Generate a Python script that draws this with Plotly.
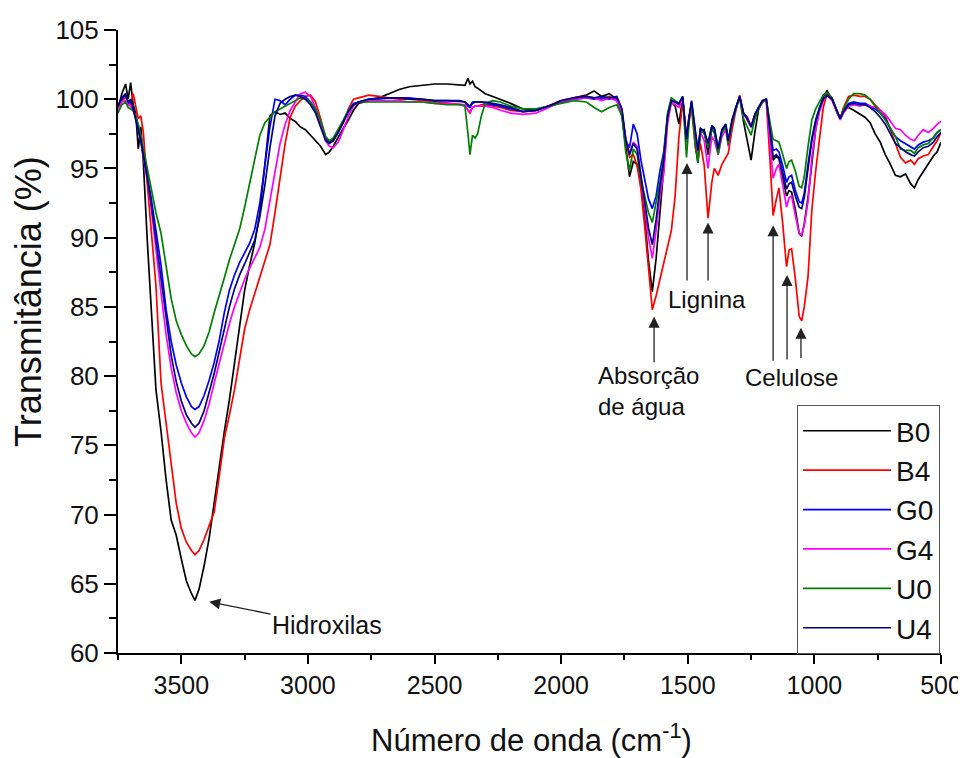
import plotly.graph_objects as go

wavenumber = [3750, 3735, 3720, 3710, 3700, 3690, 3680, 3670, 3660, 3650,
              3635, 3620, 3600, 3580, 3560, 3540, 3520, 3500, 3480, 3460,
              3446, 3430, 3410, 3390, 3370, 3350, 3330, 3310, 3290, 3270,
              3250, 3230, 3210, 3190, 3170, 3150, 3130, 3110, 3090, 3070,
              3050, 3030, 3010, 2990, 2970, 2950, 2930, 2915, 2900, 2880,
              2860, 2840, 2820, 2800, 2760, 2720, 2680, 2640, 2600, 2550,
              2500, 2450, 2400, 2380, 2368, 2360, 2350, 2340, 2330, 2315,
              2300, 2270, 2240, 2200, 2150, 2100, 2050, 2000, 1950, 1900,
              1870, 1840, 1810, 1780, 1760, 1745, 1730, 1715, 1700, 1685,
              1670, 1655, 1640, 1625, 1610, 1595, 1580, 1565, 1550, 1535,
              1520, 1505, 1495, 1485, 1470, 1460, 1450, 1435, 1420, 1405,
              1395, 1380, 1365, 1350, 1340, 1325, 1310, 1295, 1280, 1265,
              1250, 1235, 1220, 1205, 1190, 1175, 1163, 1150, 1140, 1125,
              1110, 1100, 1090, 1075, 1060, 1050, 1040, 1025, 1010, 995,
              980, 965, 950, 930, 910, 898, 885, 865, 845, 820,
              800, 780, 760, 740, 720, 700, 680, 660, 640, 620,
              605, 590, 570, 550, 530, 515, 500]

B0 = [99.3, 100.4, 101.1, 100.0, 101.2, 99.6, 99.0, 96.4, 98.0, 95.5,
      90.0, 85.5, 79.0, 76.0, 72.5, 69.6, 68.5, 66.8, 65.2, 64.3,
      63.8, 64.6, 66.3, 68.3, 71.0, 73.5, 76.0, 78.3, 81.0, 83.5,
      86.2, 88.0, 89.6, 91.8, 95.5, 98.8, 99.1, 98.9, 99.0, 98.6,
      98.4, 98.0, 97.8, 97.4, 97.0, 96.6, 96.0, 96.2, 96.6, 97.3,
      97.9, 98.5, 99.2, 99.7, 99.9, 100.1, 100.4, 100.7, 100.9, 101.0,
      101.1, 101.1, 101.0, 101.0, 101.5, 101.1, 101.3, 100.9, 100.8, 100.6,
      100.4, 100.2, 100.0, 99.7, 99.3, 99.2, 99.5, 99.8, 100.1, 100.3,
      100.6, 100.2, 100.4, 100.0, 98.8, 96.6, 94.4, 95.5, 95.3, 94.0,
      91.5, 88.3, 86.1, 88.5, 91.5, 95.0, 98.6, 99.8, 99.5, 98.2,
      100.1, 96.9, 98.5, 99.7, 97.0, 95.4, 97.6, 97.8, 96.0, 97.9,
      97.6, 96.2, 97.6, 98.1, 96.8, 98.3, 99.4, 100.2, 98.4, 97.0,
      95.6, 97.6, 99.3, 99.8, 100.0, 97.6, 95.6, 95.9, 95.7, 94.3,
      93.0, 93.4, 93.3, 92.0, 90.3, 90.1, 91.0, 92.9, 95.5, 97.8,
      99.3, 100.2, 100.6, 100.0, 99.0, 98.6, 99.3, 99.4, 99.2, 98.9,
      98.7, 98.3, 97.5, 96.9, 96.0, 95.3, 94.5, 94.4, 94.6, 93.9,
      93.6, 94.2, 94.8, 95.4, 95.9, 96.2, 96.9]

B4 = [99.4, 99.9, 100.1, 99.8, 99.6, 100.4, 99.4, 98.6, 98.8, 97.6,
      94.0, 90.8, 86.5, 79.5, 76.5, 73.5, 70.8, 69.0, 68.0, 67.4,
      67.1, 67.4, 68.2, 69.2, 70.2, 72.8, 75.5, 77.2, 79.0, 81.2,
      83.4, 84.8, 86.0, 87.2, 88.3, 89.5, 91.8, 94.2, 96.8, 98.7,
      99.5, 99.9, 100.2, 100.3, 99.8, 98.6, 97.2, 96.9, 97.0, 97.6,
      98.3, 99.3, 100.0, 100.1, 100.3, 100.2, 100.1, 100.0, 100.0, 99.9,
      99.8, 99.7, 99.6, 99.6, 99.2, 99.0, 99.4, 99.5, 99.5, 99.6,
      99.6, 99.5, 99.4, 99.2, 99.1, 99.2, 99.5, 99.9, 100.1, 100.2,
      100.1, 100.0, 100.2, 99.9, 99.0, 97.0, 95.8, 96.0, 95.2, 93.5,
      90.8, 87.6, 84.8, 85.8, 87.0, 88.3, 89.4, 90.5, 93.0, 97.3,
      99.8, 97.3, 98.8, 99.3, 96.5, 95.6, 96.8, 95.2, 91.4, 94.0,
      95.0, 94.5, 95.3, 95.8, 96.1, 97.8, 99.2, 100.3, 99.0, 98.5,
      98.0, 98.7, 99.4, 99.9, 99.9, 95.5, 91.6, 92.8, 93.6, 91.0,
      87.9, 89.1, 89.2, 87.0, 84.3, 84.0, 85.0, 87.2, 92.0, 94.8,
      97.3, 99.4, 100.4, 100.1, 99.1, 98.6, 99.4, 100.2, 100.3, 100.2,
      100.2, 100.0, 99.6, 99.2, 98.8, 97.8, 96.8, 95.8, 95.4, 95.6,
      95.3, 95.7, 95.9, 96.0, 96.6, 97.0, 97.6]

G0 = [99.6, 100.0, 100.3, 99.7, 99.9, 99.4, 98.6, 97.9, 97.0, 96.0,
      94.5, 93.0, 90.5, 88.0, 84.8, 82.5, 80.8, 79.5, 78.5, 77.8,
      77.6, 77.8, 78.6, 79.7, 81.0, 82.6, 84.6, 86.2, 87.3, 88.2,
      88.9, 89.6, 90.6, 92.5, 95.2, 98.0, 100.0, 99.9, 99.6, 100.0,
      100.3, 100.3, 100.2, 99.8, 99.2, 98.2, 97.1, 96.9, 97.1, 97.7,
      98.4, 99.2, 99.7, 99.8, 100.0, 100.0, 100.1, 100.1, 100.1, 100.0,
      99.9, 99.9, 99.8, 99.8, 99.5, 99.4, 99.7, 99.8, 99.8, 99.8,
      99.7, 99.6, 99.5, 99.3, 99.1, 99.2, 99.5, 99.8, 100.0, 100.1,
      100.0, 100.1, 100.0, 100.1, 99.2, 97.0, 96.5, 98.2, 97.5, 95.6,
      94.2, 92.8, 92.1, 93.0, 94.8, 96.2, 98.8, 99.9, 99.8, 99.6,
      100.1, 96.9, 98.6, 99.8, 97.6, 96.2, 97.9, 97.6, 96.8, 98.0,
      97.9, 96.5, 97.8, 98.2, 97.0, 98.5, 99.4, 100.2, 99.0, 98.7,
      98.0, 98.9, 99.4, 99.9, 100.0, 98.0, 96.3, 96.4, 96.2, 95.2,
      94.0, 94.4, 94.5, 93.4, 92.6, 92.5, 93.2, 95.3, 97.2, 98.5,
      99.4, 100.0, 100.3, 100.0, 99.1, 98.6, 99.2, 99.7, 99.8, 99.7,
      99.7, 99.5, 99.3, 99.0, 98.6, 97.9, 97.3, 97.0, 96.8, 96.6,
      96.4, 96.7, 96.9, 97.0, 97.2, 97.6, 97.8]

G4 = [99.2, 99.8, 99.9, 99.6, 99.5, 99.2, 98.8, 97.8, 97.0, 95.8,
      94.3, 92.3, 89.0, 86.0, 83.0, 80.6, 78.8, 77.5, 76.6, 75.9,
      75.6, 75.9, 76.8, 78.0, 79.5, 81.0, 82.5, 83.8, 85.0, 86.0,
      87.0, 87.8, 88.5, 89.3, 90.6, 92.7, 94.9, 96.8, 98.2, 99.2,
      99.8, 100.4, 100.5, 100.2, 99.4, 98.3, 97.0, 96.6, 96.5, 96.9,
      97.8, 98.8, 99.5, 99.8, 99.9, 99.9, 99.9, 99.9, 99.8, 99.8,
      99.7, 99.7, 99.6, 99.6, 99.2, 99.1, 99.4, 99.5, 99.5, 99.5,
      99.5, 99.4, 99.2, 99.0, 98.9, 99.0, 99.4, 99.8, 100.0, 100.1,
      100.1, 99.9, 100.1, 99.9, 99.0, 97.2, 96.0, 96.9, 96.6, 94.5,
      92.3, 90.0, 88.5, 90.5, 93.0, 94.6, 98.2, 99.8, 99.6, 99.4,
      100.0, 97.0, 98.6, 99.7, 97.2, 96.0, 97.6, 97.0, 95.0, 97.3,
      97.0, 96.0, 97.3, 97.8, 96.6, 98.3, 99.3, 100.2, 98.9, 98.6,
      98.0, 98.8, 99.3, 99.8, 100.0, 97.0, 94.3, 95.0, 95.3, 93.8,
      92.2, 92.9, 93.0, 91.6, 90.3, 90.2, 90.9, 92.6, 95.8, 97.8,
      99.1, 99.9, 100.3, 99.9, 99.0, 98.5, 99.0, 99.5, 99.6, 99.5,
      99.6, 99.5, 99.4, 99.2, 98.9, 98.4, 97.9, 97.8, 97.4, 97.1,
      97.0, 97.4, 97.8, 97.6, 97.9, 98.2, 98.4]

U0 = [99.0, 99.6, 99.8, 99.4, 99.3, 99.2, 98.8, 98.2, 97.4, 96.5,
      95.0, 93.8, 91.8, 90.3, 87.8, 85.6, 84.0, 83.0, 82.2, 81.6,
      81.4, 81.6, 82.2, 83.2, 84.6, 85.8, 87.1, 88.4, 89.5, 90.6,
      92.2, 94.0, 95.8, 97.4, 98.3, 98.7, 99.1, 99.3, 99.5, 99.7,
      99.9, 100.1, 100.0, 99.8, 99.3, 98.5, 97.3, 97.0, 97.2, 97.8,
      98.5, 99.2, 99.6, 99.8, 99.8, 99.8, 99.8, 99.8, 99.8, 99.8,
      99.7, 99.6, 99.6, 99.5, 97.5, 96.0, 97.4, 97.2, 97.5, 98.8,
      99.7, 99.9, 99.8, 99.5, 99.3, 99.3, 99.5, 99.7, 99.9, 99.8,
      99.4, 99.1, 99.4, 99.6, 98.8, 96.2, 94.9, 96.4, 96.0, 94.2,
      93.0, 91.8, 91.1, 92.5, 94.0, 95.8, 99.0, 100.1, 99.9, 99.7,
      100.2, 95.8, 98.3, 99.8, 96.6, 95.4, 97.8, 97.5, 96.5, 97.8,
      97.7, 96.0, 97.6, 98.0, 96.7, 98.3, 99.3, 100.1, 98.6, 98.0,
      97.4, 98.6, 99.3, 99.8, 100.0, 98.3, 97.1, 97.0, 96.9, 96.0,
      95.0, 95.5, 95.6, 94.8, 93.7, 93.6, 94.4, 96.6, 98.5, 99.3,
      99.8, 100.3, 100.5, 100.1, 99.1, 98.6, 99.3, 100.0, 100.4, 100.4,
      100.3, 100.0, 99.5, 99.0, 98.5, 97.9, 97.3, 96.4, 96.3, 96.3,
      96.1, 96.5, 96.7, 96.8, 97.3, 97.6, 97.8]

U4 = [99.5, 100.1, 100.4, 99.8, 100.0, 99.3, 98.7, 97.8, 97.0, 96.0,
      94.4, 92.6, 89.8, 87.0, 84.0, 81.5, 79.6, 78.2, 77.2, 76.6,
      76.3, 76.6, 77.5, 78.8, 80.2, 81.8, 83.5, 85.0, 86.3, 87.3,
      88.1, 88.9, 89.8, 91.5, 93.8, 96.5, 98.8, 99.7, 100.0, 100.2,
      100.3, 100.2, 100.0, 99.6, 99.0, 98.0, 97.0, 96.8, 97.0, 97.6,
      98.3, 99.1, 99.6, 99.8, 100.0, 100.1, 100.1, 100.1, 100.0, 100.0,
      99.9, 99.9, 99.9, 99.8, 99.6, 99.5, 99.8, 99.8, 99.8, 99.8,
      99.8, 99.7, 99.6, 99.4, 99.1, 99.2, 99.5, 99.9, 100.1, 100.2,
      100.1, 100.2, 100.1, 100.2, 99.3, 97.1, 96.0, 96.8, 96.4, 94.5,
      92.6, 90.7, 89.5, 91.3, 93.6, 95.6, 98.7, 99.9, 99.8, 99.7,
      100.2, 97.1, 98.7, 99.9, 97.7, 96.3, 97.9, 97.7, 96.8, 98.1,
      97.9, 96.4, 97.8, 98.2, 97.0, 98.5, 99.4, 100.2, 99.0, 98.6,
      98.0, 98.9, 99.4, 99.9, 100.0, 97.8, 95.8, 96.0, 95.8, 94.7,
      93.5, 93.9, 94.0, 93.0, 92.2, 92.1, 92.9, 95.0, 97.0, 98.4,
      99.3, 100.0, 100.3, 100.0, 99.1, 98.6, 99.1, 99.6, 99.7, 99.6,
      99.6, 99.4, 99.1, 98.7, 98.2, 97.5, 96.8, 96.5, 96.2, 96.0,
      95.9, 96.2, 96.5, 96.6, 96.9, 97.3, 97.6]

series_names = ["B0", "B4", "G0", "G4", "U0", "U4"]
series_values = [B0, B4, G0, G4, U0, U4]
series_colors = ["#000000", "#FF0000", "#0000FF", "#FF00FF", "#008000", "#000080"]

x_tick_values = [3500, 3000, 2500, 2000, 1500, 1000, 500]
y_tick_values = [60, 65, 70, 75, 80, 85, 90, 95, 100, 105]

FONT = "Liberation Sans, Arial, sans-serif"
TXT = "#111111"

fig = go.Figure()
for name, vals, col in zip(series_names, series_values, series_colors):
    fig.add_trace(go.Scatter(x=wavenumber, y=vals, mode="lines", name=name,
                             line=dict(color=col, width=1.7)))

# arrows (tip = x,y ; tail = ax,ay)
arrows = [
    (1633, 84.3, 1633, 80.9),   # Absorção de água
    (1503, 95.4, 1503, 86.8),   # Lignina
    (1420, 91.1, 1420, 86.8),
    (1163, 90.9, 1163, 81.0),   # Celulose
    (1108, 87.3, 1108, 81.1),
    (1053, 83.5, 1053, 81.2),
]
for (x, y, ax, ay) in arrows:
    fig.add_annotation(x=x, y=y, ax=ax, ay=ay, xref="x", yref="y", axref="x", ayref="y",
                       text="", showarrow=True, arrowhead=2, arrowsize=1.7,
                       arrowwidth=1.3, arrowcolor="#222222")

# Hidroxilas label carries its own arrow
fig.add_annotation(x=3390, y=63.7, ax=2925, ay=62.0, xref="x", yref="y", axref="x", ayref="y",
                   text="Hidroxilas", showarrow=True, arrowhead=2, arrowsize=1.7,
                   arrowwidth=1.3, arrowcolor="#222222", standoff=0,
                   font=dict(family=FONT, size=25, color=TXT))

labels = [
    ("Absorção<br>de água", 1657, 78.9, "center"),
    ("Lignina", 1424, 85.5, "center"),
    ("Celulose", 1092, 79.9, "center"),
]
for (t, x, y, anc) in labels:
    fig.add_annotation(x=x, y=y, xref="x", yref="y", text=t, showarrow=False,
                       xanchor=anc, yanchor="middle", align="left",
                       font=dict(family=FONT, size=24, color=TXT))

# axis titles as paper annotations
fig.add_annotation(x=0.502, y=-0.137, xref="paper", yref="paper",
                   text="Número de onda (cm<sup>-1</sup>)", showarrow=False,
                   xanchor="center", yanchor="middle",
                   font=dict(family=FONT, size=31, color=TXT))
fig.add_annotation(x=-0.1095, y=0.565, xref="paper", yref="paper",
                   text="Transmitância (%)", showarrow=False, textangle=-90,
                   xanchor="center", yanchor="middle",
                   font=dict(family=FONT, size=36, color=TXT))

# page body has an 8px margin, so the figure is 8px smaller and margins shifted
fig.update_layout(
    width=958, height=750,
    margin=dict(l=110, r=25, t=22, b=105),
    plot_bgcolor="white", paper_bgcolor="white",
    font=dict(family=FONT, color=TXT),
    showlegend=True,
    legend=dict(x=0.825, y=0.398, xanchor="left", yanchor="top",
                bgcolor="white", bordercolor="#555555", borderwidth=1,
                font=dict(family=FONT, size=28, color=TXT),
                itemwidth=88),
)
fig.update_xaxes(
    range=[3750, 500], tickvals=x_tick_values, automargin=False,
    showline=True, linecolor="black", linewidth=2,
    ticks="outside", ticklen=9, tickwidth=2, tickcolor="black",
    minor=dict(dtick=250, tick0=500, ticks="outside", ticklen=5, tickwidth=2, tickcolor="black"),
    showgrid=False, zeroline=False,
    tickfont=dict(family=FONT, size=25, color=TXT),
)
fig.update_yaxes(
    range=[60, 105], tickvals=y_tick_values, automargin=False,
    showline=True, linecolor="black", linewidth=2,
    ticks="outside", ticklen=12, tickwidth=2, tickcolor="black",
    minor=dict(dtick=2.5, tick0=60, ticks="outside", ticklen=7, tickwidth=2, tickcolor="black"),
    showgrid=False, zeroline=False,
    tickfont=dict(family=FONT, size=26, color=TXT),
)

fig.write_html("out.html")
